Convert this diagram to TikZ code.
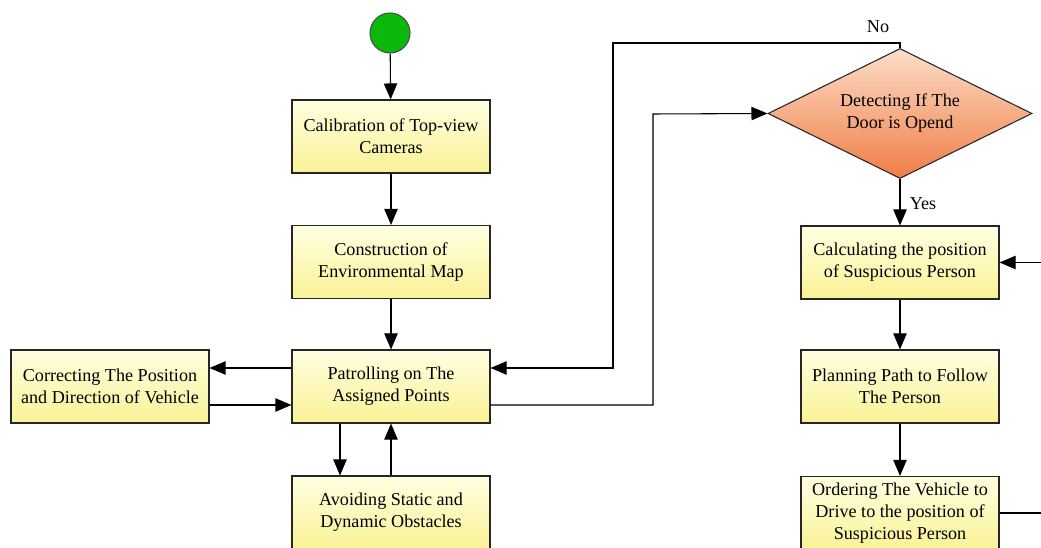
\documentclass[tikz,border=0pt]{standalone}
\usepackage{fontspec}
\setmainfont{Liberation Serif}
\newfontfamily\boxfont{Liberation Serif}
\usetikzlibrary{arrows.meta,shapes.geometric}
\definecolor{boxtop}{RGB}{255,255,225}
\definecolor{boxbot}{RGB}{250,242,150}
\definecolor{dtop}{RGB}{252,222,200}
\definecolor{dbot}{RGB}{240,125,70}
\definecolor{startgreen}{RGB}{10,185,10}
\tikzset{
  stepbox/.style={draw=black!85, line width=0.8pt, top color=boxtop, bottom color=boxbot,
    minimum width=148.5pt, minimum height=54.75pt, inner sep=0pt, align=center,
    font=\boxfont\fontsize{13.6}{16.5}\selectfont},
  decbox/.style={diamond, draw=black!85, line width=0.8pt, top color=dtop, bottom color=dbot,
    minimum width=198pt, minimum height=97.5pt, inner sep=0pt, shape aspect=2, align=center,
    font=\boxfont\fontsize{13.6}{16.5}\selectfont},
  arr/.style={line width=0.8pt, -{Triangle[length=12pt,width=10pt]}},
  lbl/.style={font=\boxfont\fontsize{13.6}{16}\selectfont, inner sep=1pt}
}
\begin{document}
\begin{tikzpicture}[x=0.75pt,y=-0.75pt]
\useasboundingbox (0,0) rectangle (1041,548);
\clip (0,0) rectangle (1041,548);
\fill[white] (0,0) rectangle (1041,548);
\node[circle, draw=black!70, line width=0.8pt, fill=startgreen, minimum size=30pt, inner sep=0pt] (start) at (390,33) {};
\node[stepbox] (cal) at (391,136.5) {Calibration of Top-view\\Cameras};
\node[stepbox] (con) at (391,262) {Construction of\\Environmental Map};
\node[stepbox] (pat) at (391,386.5) {Patrolling on The\\Assigned Points};
\node[stepbox] (avo) at (391,512.5) {Avoiding Static and\\Dynamic Obstacles};
\node[stepbox] (corr) at (110,386.5) {Correcting The Position\\and Direction of Vehicle};
\node[decbox] (det) at (900,113.5) {Detecting If The\\Door is Opend};
\node[stepbox] (calc) at (900,262.5) {Calculating the position\\of Suspicious Person};
\node[stepbox] (plan) at (900,386.5) {Planning Path to Follow\\The Person};
\node[stepbox] (ord) at (900,513) {Ordering The Vehicle to\\Drive to the position of\\Suspicious Person};

\draw[arr] (start) -- (cal);
\draw[arr] (cal) -- (con);
\draw[arr] (con) -- (pat);
\draw[arr] (pat.west |- 0,368) -- (corr.east |- 0,368);
\draw[arr] (corr.east |- 0,405) -- (pat.west |- 0,405);
\draw[arr] (pat.south -| 340,0) -- (avo.north -| 340,0);
\draw[arr] (avo.north) -- (pat.south);
\draw[arr] (det.north) |- (613,43) |- (pat.east |- 0,368);
\node[lbl] (no) at (878,27) {No};
\draw[arr] (pat.east |- 0,405) -| (653,114) -- (det.west);
\draw[arr] (det.south) -- (calc.north);
\node[lbl] (yes) at (923,204) {Yes};
\draw[arr] (calc) -- (plan);
\draw[arr] (plan) -- (ord);
\draw[arr] (ord.east) -- (1070,513) |- (calc.east);
\end{tikzpicture}
\end{document}
